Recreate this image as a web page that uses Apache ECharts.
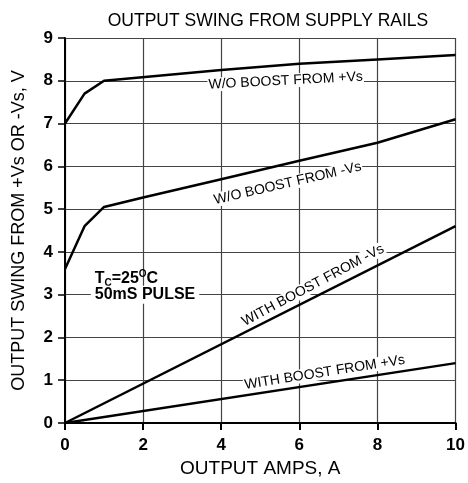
<!DOCTYPE html>
<html>
<head>
<meta charset="utf-8">
<script src="https://cdn.jsdelivr.net/npm/echarts@6/dist/echarts.min.js"></script>
<style>
  html, body { margin: 0; padding: 0; background: #fff; }
  #chart { width: 468px; height: 483px; }
</style>
</head>
<body>
<div id="chart"></div>
<script>
// data
var xTicks = [0, 2, 4, 6, 8, 10];
var yTicks = [0, 1, 2, 3, 4, 5, 6, 7, 8, 9];

var ampsNoBoostPlus = [0, 0.5, 1, 4, 6, 8, 10];
var voltsNoBoostPlus = [7, 7.7, 8.0, 8.25, 8.4, 8.5, 8.6];

var ampsNoBoostMinus = [0, 0.5, 1, 2, 4, 6, 8, 10];
var voltsNoBoostMinus = [3.6, 4.6, 5.05, 5.27, 5.7, 6.13, 6.55, 7.1];

var ampsBoost = [0, 10];
var voltsBoostMinus = [0, 4.6];
var voltsBoostPlus = [0, 1.4];

function pairs(xs, ys) {
    var out = [];
    for (var i = 0; i < xs.length; i++) out.push([xs[i], ys[i]]);
    return out;
}

var chart = echarts.init(document.getElementById('chart'));
var font = 'Liberation Sans, Arial, sans-serif';

function curve(name, data) {
    return {
        name: name,
        type: 'line',
        data: data,
        symbol: 'none',
        lineStyle: { color: '#000', width: 2.5 },
        z: 5
    };
}

var option = {
    animation: false,
    title: {
        text: 'OUTPUT SWING FROM SUPPLY RAILS',
        left: 263, top: 7, textAlign: 'center',
        textStyle: { fontFamily: font, fontSize: 17.5, fontWeight: 'normal', color: '#000' }
    },
    grid: { left: 65, right: 11, top: 38, bottom: 55 },
    xAxis: {
        type: 'value', min: 0, max: 10, interval: 2,
        name: 'OUTPUT AMPS, A', nameLocation: 'middle', nameGap: 36,
        nameTextStyle: { fontFamily: font, fontSize: 19, color: '#000' },
        axisLine: { lineStyle: { color: '#000', width: 2 } },
        axisTick: { show: true, length: 7, lineStyle: { color: '#000', width: 2 } },
        axisLabel: {
            fontFamily: font, fontSize: 17, fontWeight: 'bold', color: '#000', margin: 14,
            formatter: function(v) { return xTicks.indexOf(v) >= 0 ? String(v) : ''; }
        },
        splitLine: { show: true, lineStyle: { color: '#444', width: 1.2 } }
    },
    yAxis: {
        type: 'value', min: 0, max: 9, interval: 1,
        name: 'OUTPUT SWING FROM +Vs OR -Vs, V', nameLocation: 'middle', nameGap: 37,
        nameTextStyle: { fontFamily: font, fontSize: 18, color: '#000' },
        axisLine: { show: true, lineStyle: { color: '#000', width: 2 } },
        axisTick: { show: true, length: 7, lineStyle: { color: '#000', width: 1.5 } },
        axisLabel: {
            fontFamily: font, fontSize: 17, fontWeight: 'bold', color: '#000', margin: 12,
            formatter: function(v) { return yTicks.indexOf(v) >= 0 ? String(v) : ''; }
        },
        splitLine: { show: true, lineStyle: { color: '#444', width: 1.2 } }
    },
    series: [
        curve('W/O BOOST FROM +Vs', pairs(ampsNoBoostPlus, voltsNoBoostPlus)),
        curve('W/O BOOST FROM -Vs', pairs(ampsNoBoostMinus, voltsNoBoostMinus)),
        curve('WITH BOOST FROM -Vs', pairs(ampsBoost, voltsBoostMinus)),
        curve('WITH BOOST FROM +Vs', pairs(ampsBoost, voltsBoostPlus))
    ]
};
chart.setOption(option);

// curve labels, placed in data coords
var notes = [
    { text: 'W/O BOOST FROM +Vs', at: [5.65, 8.0], rot: 3 },
    { text: 'W/O BOOST FROM -Vs', at: [5.7, 5.6], rot: 13 },
    { text: 'WITH BOOST FROM -Vs', at: [6.35, 3.22], rot: 28 },
    { text: 'WITH BOOST FROM +Vs', at: [6.65, 1.18], rot: 9 }
];
var gfx = [];
notes.forEach(function(n) {
    var p = chart.convertToPixel({ gridIndex: 0 }, n.at);
    gfx.push({
        type: 'text', x: p[0], y: p[1], rotation: n.rot * Math.PI / 180, z: 10,
        style: {
            text: n.text, fontFamily: font, fontSize: 14, fill: '#000',
            align: 'center', verticalAlign: 'middle',
            backgroundColor: '#fff', padding: [0, 1]
        }
    });
});
var tp = chart.convertToPixel({ gridIndex: 0 }, [0.76, 3.2]);
gfx.push({
    type: 'text', x: tp[0], y: tp[1], z: 10,
    style: {
        text: '{b|T}{s|C}{b|=25}{o|O}{b|C}',
        fontFamily: font, fontWeight: 'bold', fill: '#000',
        verticalAlign: 'bottom',
        rich: {
            b: { fontFamily: font, fontSize: 16, fontWeight: 'bold', verticalAlign: 'bottom' },
            s: { fontFamily: font, fontSize: 10, fontWeight: 'bold', verticalAlign: 'bottom', padding: [0, 0, -2, 0] },
            o: { fontFamily: font, fontSize: 10, fontWeight: 'bold', verticalAlign: 'top', padding: [0, 0, 7, 0] }
        }
    }
});
var pp = chart.convertToPixel({ gridIndex: 0 }, [0.66, 3.0]);
gfx.push({
    type: 'text', x: pp[0], y: pp[1], z: 10,
    style: {
        text: '50mS PULSE', fontFamily: font, fontSize: 16, fontWeight: 'bold', fill: '#000',
        verticalAlign: 'middle', backgroundColor: '#fff', padding: [1, 4]
    }
});
chart.setOption({ graphic: gfx });
</script>
</body>
</html>
